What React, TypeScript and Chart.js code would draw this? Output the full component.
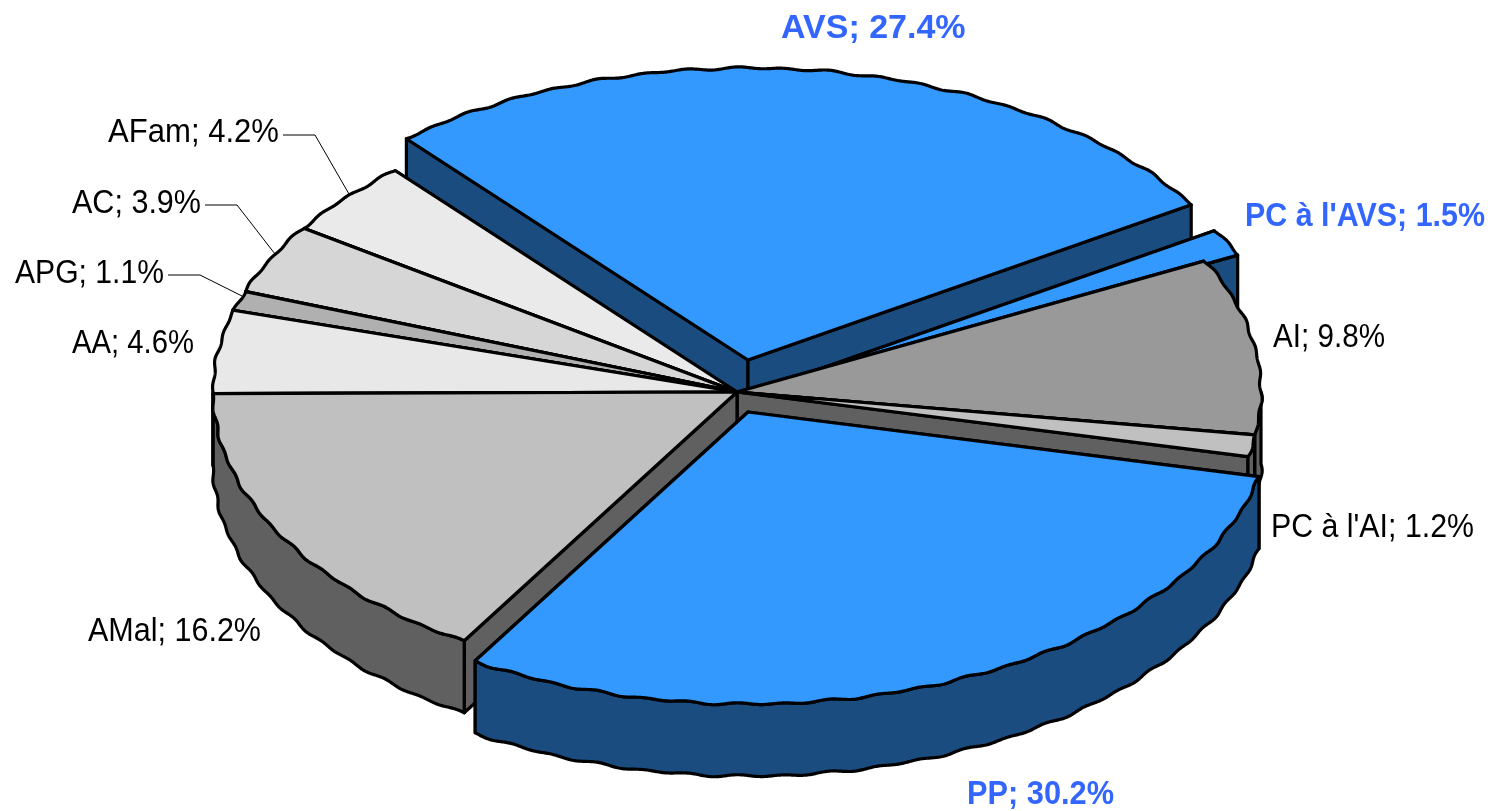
import React, { useEffect, useRef } from "react";
import { Chart, registerables, ArcElement, PieController } from "chart.js";

const categories = ["AVS", "PC à l'AVS", "AI", "PC à l'AI", "PP", "AMal", "AA", "APG", "AC", "AFam"];
const shares = [27.4, 1.5, 9.8, 1.2, 30.2, 16.2, 4.6, 1.1, 3.9, 4.2];
const topColors = ["#3399FF", "#3399FF", "#999999", "#C0C0C0", "#3399FF", "#C0C0C0", "#E8E8E8", "#B0B0B0", "#D6D6D6", "#EAEAEA"];
const wallColors = ["#1A4C80", "#1A4C80", "#606060", "#606060", "#1A4C80", "#606060", "#606060", "#606060", "#606060", "#606060"];
const explodeX = [11, 34, 0, 0, 11, 0, 0, 0, 0, 0];
const explodeY = [-32, -6, 0, 0, 20, 0, 0, 0, 0, 0];
const paintOrder = [0, 1, 9, 8, 7, 6, 2, 3, 5, 4];
const labelLeft = [781, 1245, 1273, 1271, 967, 88, 72, 15, 72, 108];
const labelBaseline = [38, 226, 347, 537, 804, 641, 353, 283, 213, 142];
const labelWidth = [186, 240, 112, 203, 147, 173, 122, 149, 129, 171];
const labelBold = [true, true, false, false, true, false, false, false, false, false];
const leaders: number[][][] = [
  [[283, 135], [315, 135], [349, 194]],
  [[205, 205], [237, 205], [275, 254]],
  [[168, 275], [200, 275], [242, 296]],
];

const RX = 524;
const RY = 292;
const DEPTH = 72;

type P = [number, number];

function rimPoint(cx: number, cy: number, t: number): P {
  const w = 0.9 * Math.sin(70 * t) + 0.5 * Math.sin(43 * t);
  return [cx + (RX + w) * Math.cos(t), cy + (RY + w) * Math.sin(t)];
}

function rim(cx: number, cy: number, t0: number, t1: number): P[] {
  const out: P[] = [];
  const n = Math.max(4, Math.ceil(Math.abs(t1 - t0) * 400));
  for (let i = 0; i <= n; i++) out.push(rimPoint(cx, cy, t0 + ((t1 - t0) * i) / n));
  return out;
}

function poly(ctx: CanvasRenderingContext2D, pts: P[], fill: string) {
  ctx.beginPath();
  pts.forEach((p, i) => (i ? ctx.lineTo(p[0], p[1]) : ctx.moveTo(p[0], p[1])));
  ctx.closePath();
  ctx.fillStyle = fill;
  ctx.fill();
  ctx.stroke();
}

class Arc3D extends ArcElement {
  static id = "arc3d";
  sliceIndex = 0;
  draw(ctx: CanvasRenderingContext2D) {
    const { x, y, startAngle, endAngle } = (this as any).getProps(["x", "y", "startAngle", "endAngle"]);
    const i = this.sliceIndex;
    const cx = x + explodeX[i];
    const cy = y + explodeY[i];
    const wall = wallColors[i];
    ctx.save();
    ctx.lineWidth = 3.2;
    ctx.lineJoin = "round";
    ctx.strokeStyle = "#000000";
    const down = (p: P): P => [p[0], p[1] + DEPTH];
    const faces = [rimPoint(cx, cy, startAngle), rimPoint(cx, cy, endAngle)].sort((p, q) => p[1] - q[1]);
    for (const e of faces) {
      const c: P = [cx, cy];
      poly(ctx, [c, e, down(e), down(c)], wall);
    }
    const TAU = Math.PI * 2;
    for (const k of [-1, 0, 1]) {
      const a = Math.max(startAngle, k * TAU);
      const b = Math.min(endAngle, k * TAU + Math.PI);
      if (b > a) {
        const edge = rim(cx, cy, a, b);
        poly(ctx, [...edge, ...edge.slice().reverse().map(down)], wall);
      }
    }
    poly(ctx, [[cx, cy], ...rim(cx, cy, startAngle, endAngle)], topColors[i]);
    ctx.restore();
  }
}

class Pie3DController extends PieController {
  static id = "pie3d";
  static defaults = { dataElementType: "arc3d" };
  draw() {
    const ctx = (this as any).chart.ctx;
    const data = (this as any).getMeta().data;
    for (const i of paintOrder) {
      data[i].sliceIndex = i;
      data[i].draw(ctx);
    }
  }
}

const labelPlugin = {
  id: "sliceLabels",
  afterDraw(chart: any) {
    const ctx = chart.ctx;
    ctx.save();
    ctx.strokeStyle = "#000000";
    ctx.lineWidth = 1;
    for (const l of leaders) {
      ctx.beginPath();
      l.forEach((p, i) => (i ? ctx.lineTo(p[0], p[1]) : ctx.moveTo(p[0], p[1])));
      ctx.stroke();
    }
    ctx.textAlign = "left";
    ctx.textBaseline = "alphabetic";
    categories.forEach((c, i) => {
      ctx.font = `${labelBold[i] ? "bold " : ""}34px "Liberation Sans"`;
      ctx.fillStyle = labelBold[i] ? "#3366FF" : "#000000";
      ctx.fillText(`${c}; ${shares[i].toFixed(1)}%`, labelLeft[i], labelBaseline[i], labelWidth[i]);
    });
    ctx.restore();
  },
};

Chart.register(...registerables, Arc3D, Pie3DController);

export default function App() {
  const ref = useRef<HTMLCanvasElement>(null);
  useEffect(() => {
    const chart = new Chart(ref.current!, {
      type: "pie3d" as any,
      data: {
        labels: categories,
        datasets: [{ data: shares, backgroundColor: topColors }],
      },
      options: {
        responsive: false,
        animation: false,
        events: [],
        rotation: 319.3,
        layout: { padding: { right: 21, bottom: 27 } },
        plugins: { legend: { display: false }, tooltip: { enabled: false } },
      },
      plugins: [labelPlugin],
    } as any);
    return () => chart.destroy();
  }, []);
  return (
    <canvas
      ref={ref}
      width={1495}
      height={811}
      style={{ position: "absolute", left: 0, top: 0, width: 1495, height: 811, background: "#FFFFFF" }}
    />
  );
}
